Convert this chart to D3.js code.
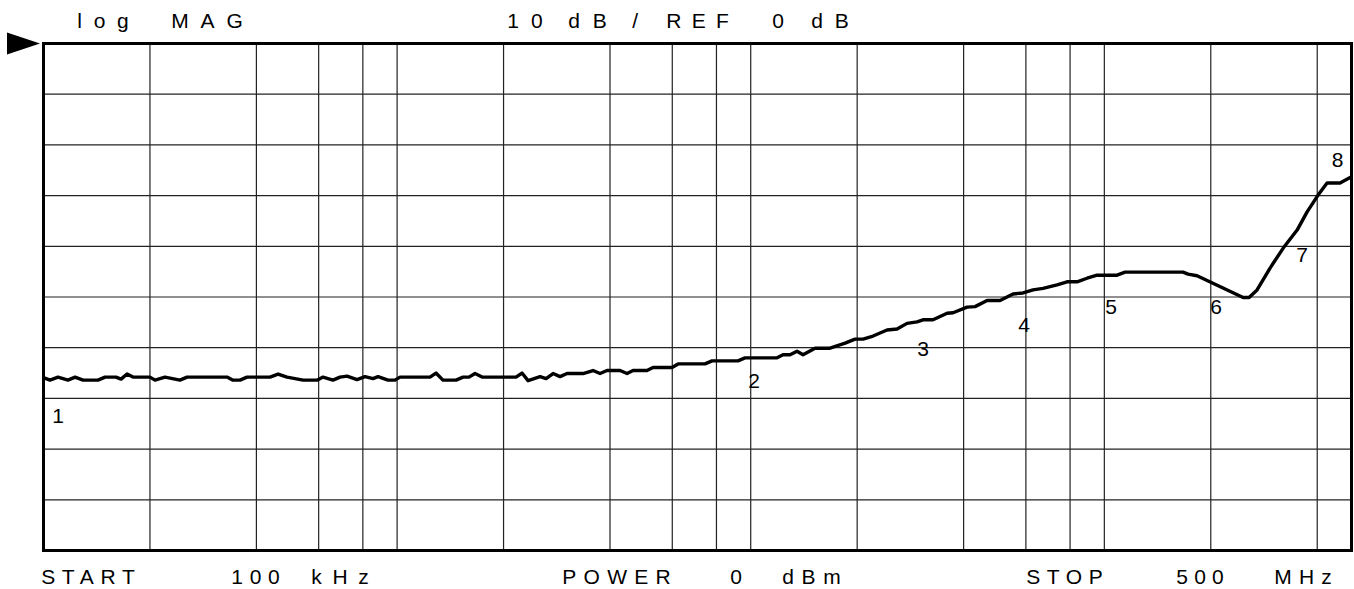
<!DOCTYPE html>
<html><head><meta charset="utf-8">
<script src="https://cdn.jsdelivr.net/npm/d3@7"></script>
<style>html,body{margin:0;padding:0;background:#fff;} svg{display:block;}</style>
</head><body>
<svg id="chart" width="1354" height="589"></svg>
<script>
// ---- data ----
const traceFreqMHz = [0.1,0.1043,0.1099,0.1173,0.1228,0.1294,0.1426,0.1493,0.1603,0.1657,0.1723,0.1791,0.2,0.2067,0.2206,0.2432,0.2546,0.3303,0.3435,0.3595,0.3763,0.4017,0.4371,0.4606,0.4883,0.542,0.5935,0.6172,0.6587,0.6895,0.7216,0.7703,0.8114,0.8548,0.8831,0.9425,0.9864,1.019,1.239,1.288,1.348,1.468,1.536,1.597,1.661,1.739,2.169,2.255,2.346,2.537,2.638,2.761,2.889,3.024,3.355,3.581,3.748,3.923,4.270,4.469,4.647,5.090,5.293,5.991,6.230,7.426,7.772,9.206,9.636,11.87,12.34,12.92,13.52,14.06,15.20,16.76,18.49,19.73,20.78,22.18,24.30,25.93,27.67,29.53,30.71,32.78,35.92,37.35,40.91,43.09,46.60,50.70,55.20,58.92,62.86,67.10,73.51,78.46,83.72,89.37,95.37,108.65,114.47,166.95,172.48,182.89,246.85,256.68,270.34,294.22,320.2,350.9,374.5,402.2,426.5,464.1,500];
const traceDb = [-65.9,-66.4,-65.8,-66.4,-65.8,-66.4,-66.4,-65.8,-65.8,-66.2,-65.2,-65.8,-65.8,-66.4,-65.8,-66.4,-65.8,-65.8,-66.4,-66.4,-65.8,-65.8,-65.8,-65.2,-65.8,-66.4,-66.4,-65.8,-66.4,-65.8,-65.6,-66.3,-65.7,-66.1,-65.7,-66.4,-66.4,-65.8,-65.8,-65.0,-66.4,-66.4,-65.8,-65.8,-65.1,-65.8,-65.8,-65.0,-66.5,-65.7,-66.1,-65.1,-65.7,-65.1,-65.1,-64.5,-65.1,-64.5,-64.5,-65.1,-64.5,-64.5,-63.9,-63.9,-63.2,-63.2,-62.6,-62.6,-62.0,-62.0,-61.4,-61.4,-60.7,-61.4,-60.1,-60.1,-59.1,-58.3,-58.3,-57.7,-56.5,-56.3,-55.2,-54.9,-54.5,-54.5,-53.2,-53.1,-52.0,-51.9,-50.7,-50.7,-49.4,-49.2,-48.6,-48.3,-47.6,-47.0,-47.0,-46.3,-45.7,-45.7,-45.1,-45.1,-45.5,-45.8,-50.1,-50.1,-48.6,-44.3,-40.4,-36.8,-33.2,-29.9,-27.5,-27.5,-26.3];

const markerLabels = ["1","2","3","4","5","6","7","8"];
const markerFreqMHz = [0.1099,10.22,30.71,59.3,104.5,207,362.4,456.5];
const markerLabelDb = [-74.85,-67.95,-61.64,-56.9,-53.35,-53.35,-43.1,-24.36];

const gridFreqMHz = [0.2,0.4,0.6,0.8,1,2,4,6,8,10,20,40,60,80,100,200,400];
const gridDb = [-10,-20,-30,-40,-50,-60,-70,-80,-90];
const freqDomainMHz = [0.1, 500];
const dbDomain = [0, -100];

const headerText = ["log MAG", "10 dB / REF 0 dB"];
const footerText = ["START 100 kHz", "POWER 0 dBm", "STOP 500 MHz"];

// ---- layout ----
const W = 1354, H = 589;
const m = {left: 43.5, right: 1351.5, top: 43.5, bottom: 550.5};
const FONT = "'Liberation Sans', Arial, Helvetica, sans-serif";
const topSpans = [[78,128],[172,242],[508,542],[569,606],[633,642],[667,728],[773,783],[812,848]];
const bottomSpans = [[42,134],[232,279],[312,368],[563,670],[731,742],[783,840],[1027,1102],[1177,1223],[1275,1331]];

const svg = d3.select("#chart");
svg.append("rect").attr("width", W).attr("height", H).attr("fill", "#fff");

const x = d3.scaleLog().domain(freqDomainMHz).range([m.left, m.right]);
const y = d3.scaleLinear().domain(dbDomain).range([m.top, m.bottom]);

// vertical grid
const gx = svg.append("g").attr("transform", `translate(0,${m.bottom})`)
  .call(d3.axisBottom(x).tickValues(gridFreqMHz).tickSize(-(m.bottom - m.top)).tickFormat("").offset(0));
gx.select(".domain").remove();
gx.selectAll(".tick line").attr("stroke", "#222").attr("stroke-width", 1.2);

// horizontal grid
const gy = svg.append("g").attr("transform", `translate(${m.left},0)`)
  .call(d3.axisLeft(y).tickValues(gridDb).tickSize(-(m.right - m.left)).tickFormat("").offset(0));
gy.select(".domain").remove();
gy.selectAll(".tick line").attr("stroke", "#222").attr("stroke-width", 1.2);

// border
svg.append("rect").attr("x", m.left).attr("y", m.top)
  .attr("width", m.right - m.left).attr("height", m.bottom - m.top)
  .attr("fill", "none").attr("stroke", "#000").attr("stroke-width", 3);

// reference arrow at REF level
const yr = y(dbDomain[0]);
svg.append("path")
  .attr("d", `M7,${yr - 11}L40,${yr}L7,${yr + 11}Z`)
  .attr("fill", "#000");

// trace
const line = d3.line().x(d => x(d[0])).y(d => y(d[1]));
svg.append("path").datum(d3.zip(traceFreqMHz, traceDb))
  .attr("d", line).attr("fill", "none").attr("stroke", "#000")
  .attr("stroke-width", 3.4).attr("stroke-linejoin", "round").attr("stroke-linecap", "butt");

// marker labels
svg.append("g").selectAll("text").data(d3.zip(markerLabels, markerFreqMHz, markerLabelDb)).join("text")
  .attr("x", d => x(d[1])).attr("y", d => y(d[2]))
  .attr("text-anchor", "middle")
  .style("font-family", FONT).style("font-size", "21px").attr("fill", "#000")
  .text(d => d[0]);

// spaced header / footer words
function placeWords(phrases, spans, baseline) {
  const words = phrases.join(" ").split(" ");
  const g = svg.append("g");
  words.forEach((w, i) => {
    const s = spans[i];
    const t = g.append("text").attr("x", s[0] - 0.8).attr("y", baseline)
      .style("font-family", FONT).style("font-size", "21px").attr("fill", "#000").text(w);
    if (w.length > 1) {
      const natural = t.node().getComputedTextLength();
      const target = (s[1] - s[0]) + 1.6;
      const ls = (target - natural) / (w.length - 1);
      t.style("letter-spacing", ls + "px");
    }
  });
}
placeWords(headerText, topSpans, 28);
placeWords(footerText, bottomSpans, 584);
</script>
</body></html>
